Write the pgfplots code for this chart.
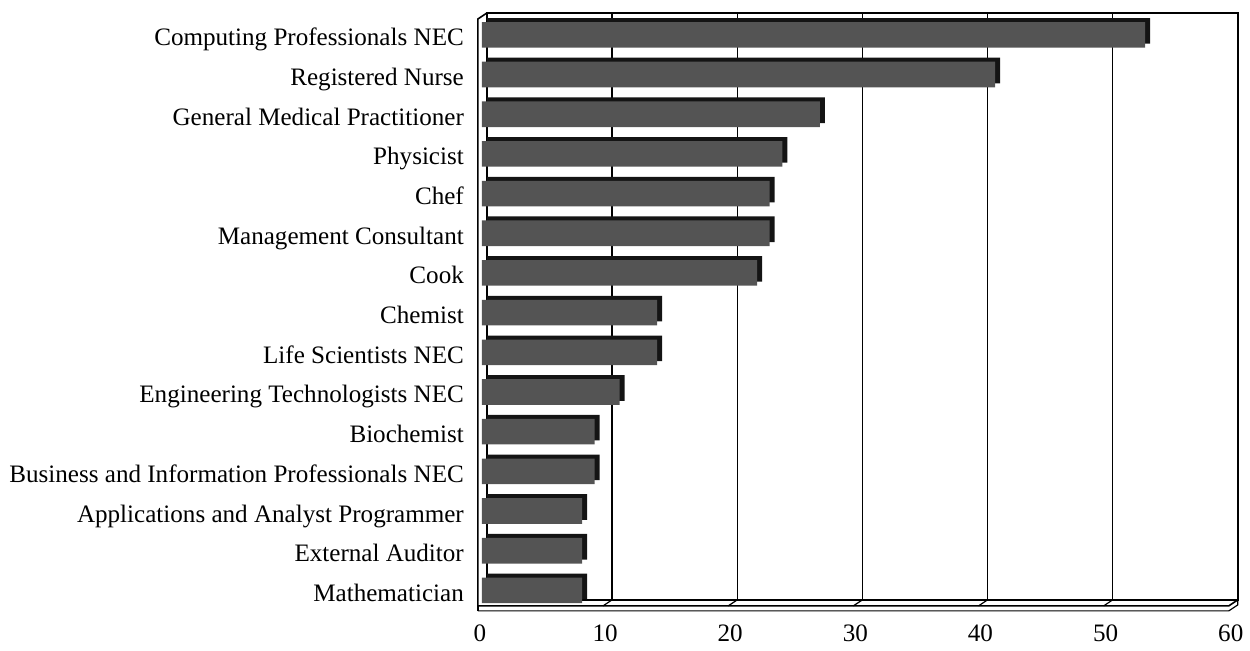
\documentclass[border=0pt]{standalone}
\usepackage{fontspec}
\setmainfont{Liberation Serif}
\usepackage{pgfplots}
\pgfplotsset{compat=1.18}
\definecolor{barface}{RGB}{84,84,84}
\definecolor{bardark}{RGB}{20,20,20}
\begin{document}
\begin{tikzpicture}
\begin{axis}[
  scale only axis,
  width=375.5pt, height=293.5pt,
  xmin=0, xmax=60,
  ymin=-0.45, ymax=14.34,
  y dir=reverse,
  xtick={0,10,20,30,40,50,60},
  ytick={0,...,14},
  yticklabels={Computing Professionals NEC,Registered Nurse,General Medical Practitioner,Physicist,Chef,Management Consultant,Cook,Chemist,Life Scientists NEC,Engineering Technologists NEC,Biochemist,Business and Information Professionals NEC,Applications and Analyst Programmer,External Auditor,Mathematician},
  major tick length=0pt,
  xmajorgrids, grid style={black, line width=0.6pt},
  axis line style={black, line width=0.8pt},
  tick label style={font=\fontsize{12.55}{14}\selectfont},
  /pgf/number format/assume math mode=true,
  yticklabel style={xshift=-8pt, yshift=-4.5pt, text height=8.5pt, text depth=2.5pt},
  xticklabel style={xshift=-3.5pt, yshift=-9pt},
  clip=false,
]
% depth (top/side faces) of each bar
\addplot[xbar, bar width=12.8pt, draw=none, fill=bardark] coordinates {
(53,0) (41,1) (27,2) (24,3) (23,4) (23,5) (22,6) (14,7) (14,8) (11,9) (9,10) (9,11) (8,12) (8,13) (8,14)};
% front faces
\addplot[xbar, bar width=12.8pt, draw=none, fill=barface, xshift=-2.5pt, yshift=-2pt] coordinates {
(53,0) (41,1) (27,2) (24,3) (23,4) (23,5) (22,6) (14,7) (14,8) (11,9) (9,10) (9,11) (8,12) (8,13) (8,14)};
% left wall and floor of the 3D frame
\draw[black, line width=0.8pt] (rel axis cs:0,1) -- ++(-4.5pt,-3pt) -- ([xshift=-4.5pt,yshift=-3pt]rel axis cs:0,0) -- ([xshift=-4.5pt,yshift=-3pt]rel axis cs:1,0) -- (rel axis cs:1,0);
\draw[black, line width=0.6pt] ([xshift=-4.5pt,yshift=-5.5pt]rel axis cs:0,0) -- ([xshift=-4.5pt,yshift=-5.5pt]rel axis cs:1,0) -- ([yshift=-2.5pt]rel axis cs:1,0) -- (rel axis cs:1,0);
\draw[black, line width=0.6pt] ([xshift=-4.5pt,yshift=-3pt]rel axis cs:0,0) -- ([xshift=-4.5pt,yshift=-5.5pt]rel axis cs:0,0);
\pgfplotsinvokeforeach{1,2,3,4,5}{
  \draw[black, line width=0.6pt] (rel axis cs:#1/6,0) -- ++(-4.5pt,-3pt);
}
\path (rel axis cs:0,1) ++(-243.5pt,6.5pt) coordinate (bbA);
\path (rel axis cs:1,0) ++(6pt,-25.5pt) coordinate (bbB);
\path (bbA) rectangle (bbB);
\end{axis}
\end{tikzpicture}
\end{document}
